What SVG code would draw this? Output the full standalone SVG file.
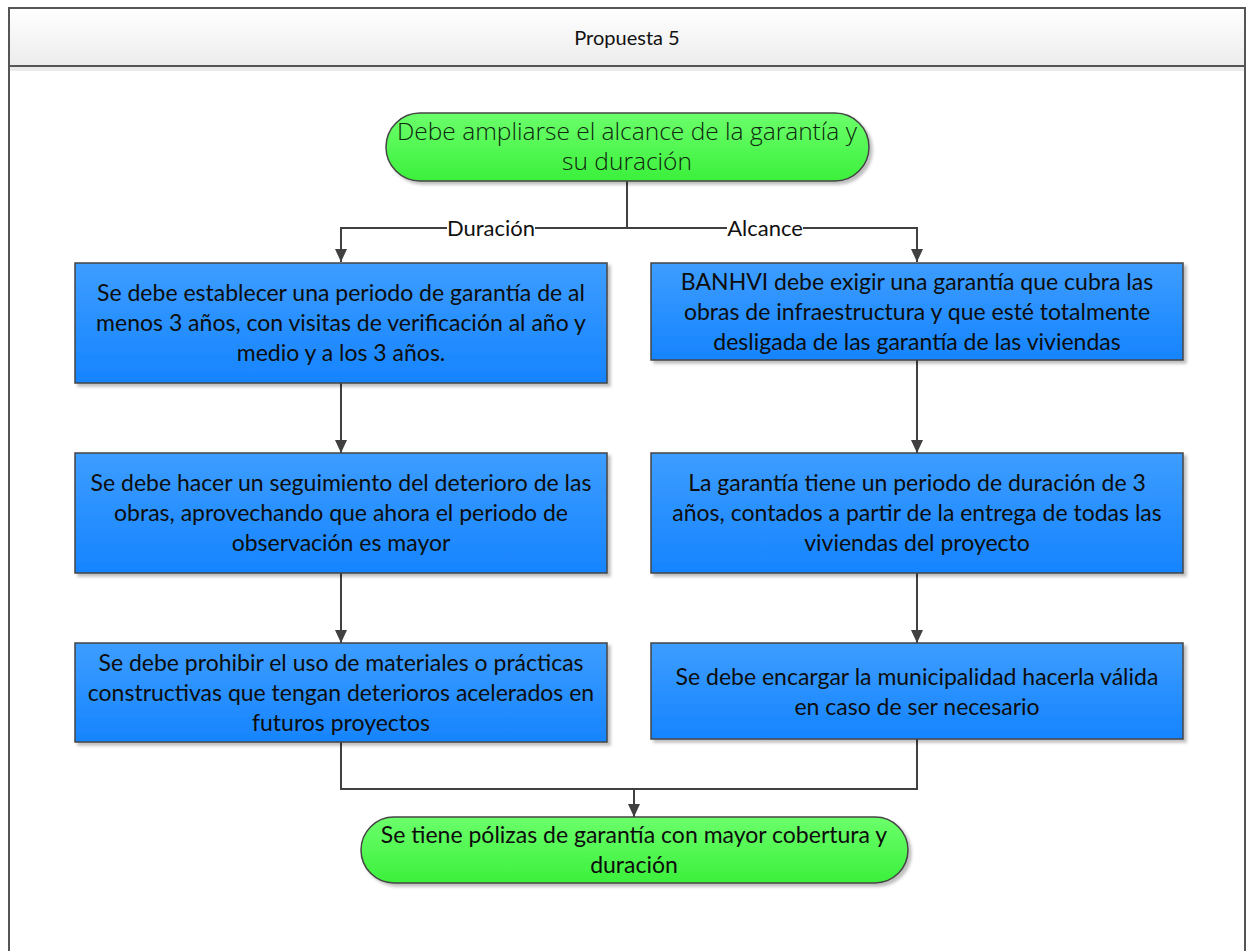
<svg xmlns="http://www.w3.org/2000/svg" width="1246" height="951" viewBox="0 0 1246 951">
  <defs>
    <linearGradient id="gHeader" x1="0" y1="0" x2="0" y2="1">
      <stop offset="0" stop-color="#ffffff"/>
      <stop offset="1" stop-color="#ececec"/>
    </linearGradient>
    <linearGradient id="gBlue" x1="0" y1="0" x2="0" y2="1">
      <stop offset="0" stop-color="#3d9dff"/>
      <stop offset="1" stop-color="#1684ff"/>
    </linearGradient>
    <linearGradient id="gGreen" x1="0" y1="0" x2="0" y2="1">
      <stop offset="0" stop-color="#6bff6b"/>
      <stop offset="1" stop-color="#3cf03c"/>
    </linearGradient>
    <filter id="shadow" x="-5%" y="-10%" width="115%" height="130%">
      <feDropShadow dx="3" dy="3" stdDeviation="1.5" flood-color="#000" flood-opacity="0.25"/>
    </filter>
    <marker id="arrow" viewBox="0 0 13 12" refX="13" refY="6" markerWidth="13" markerHeight="12" markerUnits="userSpaceOnUse" orient="auto">
      <path d="M0,0 L13,6 L0,12 z" fill="#404040"/>
    </marker>
    <style>
      .frame { fill: #ffffff; stroke: #555555; stroke-width: 2; }
      .header { fill: url(#gHeader); stroke: #555555; stroke-width: 2; }
      .title { font-family: "Lato", "Liberation Sans", sans-serif; font-size: 20px; fill: #111111; text-anchor: middle; }
      .box { fill: url(#gBlue); stroke: #444444; stroke-width: 1.5; filter: url(#shadow); }
      .term { fill: url(#gGreen); stroke: #444444; stroke-width: 1.5; filter: url(#shadow); }
      .txt { font-family: "Lato", "Liberation Sans", sans-serif; font-size: 23px; fill: #0d0d0d; text-anchor: middle; }
      .thin { font-family: "Open Sans", "Liberation Sans", sans-serif; font-weight: 300; font-size: 24.5px; fill: #0f260f; text-anchor: middle; }
      .conn { fill: none; stroke: #404040; stroke-width: 2; }
      .lbl { font-family: "Lato", "Liberation Sans", sans-serif; font-size: 22px; fill: #111111; text-anchor: middle; }
    </style>
  </defs>

  <!-- swimlane frame with title bar -->
  <g id="frame">
    <rect class="frame" x="9" y="8" width="1236" height="960"/>
    <rect x="10" y="66" width="1234" height="5" fill="#ebebeb"/>
    <rect class="header" x="9" y="8" width="1236" height="58"/>
    <text class="title" x="627" y="45">Propuesta 5</text>
  </g>

  <!-- connectors -->
  <g id="connectors">
    <path class="conn" d="M627,181 V228"/>
    <path class="conn" d="M627,228 H341 V262" marker-end="url(#arrow)"/>
    <path class="conn" d="M627,228 H917 V262" marker-end="url(#arrow)"/>
    <path class="conn" d="M341,383 V453" marker-end="url(#arrow)"/>
    <path class="conn" d="M917,360 V453" marker-end="url(#arrow)"/>
    <path class="conn" d="M341,573 V643" marker-end="url(#arrow)"/>
    <path class="conn" d="M917,573 V643" marker-end="url(#arrow)"/>
    <path class="conn" d="M341,742 V789 H634 V817" marker-end="url(#arrow)"/>
    <path class="conn" d="M917,739 V789 H634"/>
    <rect x="447" y="216" width="88" height="24" fill="#ffffff"/>
    <text class="lbl" x="491" y="236">Duración</text>
    <rect x="727" y="216" width="76" height="24" fill="#ffffff"/>
    <text class="lbl" x="765" y="236">Alcance</text>
  </g>

  <!-- start terminal -->
  <g id="start">
    <rect class="term" x="386" y="113" width="483" height="68" rx="34" ry="34"/>
    <text class="thin" x="627" y="140">Debe ampliarse el alcance de la garantía y</text>
    <text class="thin" x="627" y="170">su duración</text>
  </g>

  <!-- left branch: duration -->
  <g id="dur1">
    <rect class="box" x="75" y="263" width="532" height="120"/>
    <text class="txt" x="341" y="301">Se debe establecer una periodo de garantía de al</text>
    <text class="txt" x="341" y="331">menos 3 años, con visitas de verificación al año y</text>
    <text class="txt" x="341" y="361">medio y a los 3 años.</text>
  </g>
  <g id="dur2">
    <rect class="box" x="75" y="453" width="532" height="120"/>
    <text class="txt" x="341" y="491">Se debe hacer un seguimiento del deterioro de las</text>
    <text class="txt" x="341" y="521">obras, aprovechando que ahora el periodo de</text>
    <text class="txt" x="341" y="551">observación es mayor</text>
  </g>
  <g id="dur3">
    <rect class="box" x="75" y="643" width="532" height="99"/>
    <text class="txt" x="341" y="671">Se debe prohibir el uso de materiales o  prácticas</text>
    <text class="txt" x="341" y="701">constructivas que tengan deterioros acelerados en</text>
    <text class="txt" x="341" y="731">futuros proyectos</text>
  </g>

  <!-- right branch: scope -->
  <g id="alc1">
    <rect class="box" x="651" y="263" width="532" height="97"/>
    <text class="txt" x="917" y="290">BANHVI debe exigir una garantía que cubra las</text>
    <text class="txt" x="917" y="320">obras de infraestructura y que esté totalmente</text>
    <text class="txt" x="917" y="350">desligada de las garantía de las viviendas</text>
  </g>
  <g id="alc2">
    <rect class="box" x="651" y="453" width="532" height="120"/>
    <text class="txt" x="917" y="491">La garantía tiene un periodo de duración de 3</text>
    <text class="txt" x="917" y="521">años, contados a partir de la entrega de todas las</text>
    <text class="txt" x="917" y="551">viviendas del proyecto</text>
  </g>
  <g id="alc3">
    <rect class="box" x="651" y="643" width="532" height="96"/>
    <text class="txt" x="917" y="685">Se debe encargar la municipalidad hacerla válida</text>
    <text class="txt" x="917" y="715">en caso de ser necesario</text>
  </g>

  <!-- end terminal -->
  <g id="end">
    <rect class="term" x="361" y="817" width="547" height="66" rx="33" ry="33"/>
    <text class="txt" x="634" y="843">Se tiene pólizas de garantía con mayor cobertura y</text>
    <text class="txt" x="634" y="873">duración</text>
  </g>
</svg>
